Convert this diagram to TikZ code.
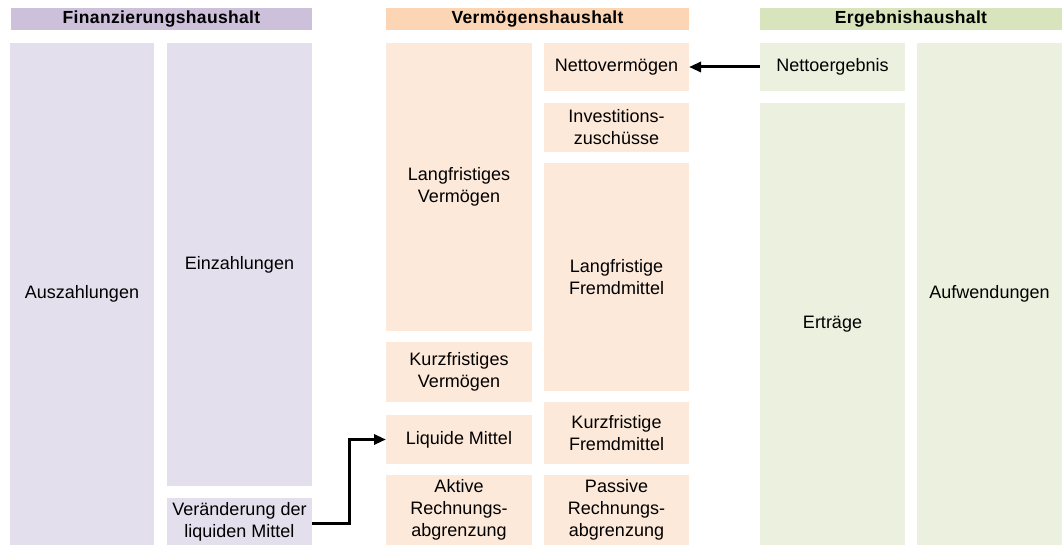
\documentclass[tikz,border=0pt]{standalone}
\usepackage{fontspec}
\setmainfont{Liberation Sans}
\usetikzlibrary{arrows.meta}
\definecolor{fhead}{HTML}{CCC0DA}
\definecolor{fbox}{HTML}{E4DFEC}
\definecolor{vhead}{HTML}{FCD5B4}
\definecolor{vbox}{HTML}{FDE9D9}
\definecolor{ehead}{HTML}{D8E4BC}
\definecolor{ebox}{HTML}{EBF1DE}
\newcommand{\bx}[7]{%
  \pgfmathsetmacro{\bw}{#4-#2}\pgfmathsetmacro{\bh}{#5-#3}%
  \node[#6, minimum width=\bw pt, minimum height=\bh pt] (#1) at ({(#2+#4)/2},{(#3+#5)/2}) {#7};}
\begin{document}
\begin{tikzpicture}[x=1pt,y=-1pt,
  base/.style={inner sep=0pt, outer sep=0pt, align=center, font=\fontsize{18}{22}\selectfont},
  hd/.style={base, font=\fontsize{17.5}{20}\selectfont\bfseries\addfontfeature{LetterSpace=2}},
  fh/.style={hd, fill=fhead},
  vh/.style={hd, fill=vhead},
  eh/.style={hd, fill=ehead},
  fb/.style={base, fill=fbox},
  vb/.style={base, fill=vbox},
  eb/.style={base, fill=ebox},
  conn/.style={line width=3pt, -{Triangle[length=12pt,width=10pt]}}]
\useasboundingbox (0,0) rectangle (1062,545);
% headers
\bx{hf}{11}{8}{312}{30}{fh}{Finanzierungshaushalt}
\bx{hv}{386}{8}{689}{30}{vh}{Vermögenshaushalt}
\bx{he}{760}{8}{1062}{30}{eh}{Ergebnishaushalt}
% Finanzierungshaushalt
\bx{aus}{10}{43}{154}{545}{fb}{Auszahlungen}
\bx{ein}{167}{43}{312}{486}{fb}{Einzahlungen}
\bx{ver}{167}{498}{312}{545}{fb}{Veränderung der\\liquiden Mittel}
% Vermögenshaushalt left
\bx{lv}{386}{43}{532}{331}{vb}{Langfristiges\\Vermögen}
\bx{kv}{386}{342}{532}{402}{vb}{Kurzfristiges\\Vermögen}
\bx{lm}{386}{415}{532}{464}{vb}{Liquide Mittel}
\bx{ara}{386}{475}{532}{545}{vb}{Aktive\\Rechnungs-\\abgrenzung}
% Vermögenshaushalt right
\bx{nv}{544}{43}{689}{91}{vb}{Nettovermögen}
\bx{iz}{544}{103}{689}{152}{vb}{Investitions-\\zuschüsse}
\bx{lf}{544}{163}{689}{391}{vb}{Langfristige\\Fremdmittel}
\bx{kf}{544}{402}{689}{464}{vb}{Kurzfristige\\Fremdmittel}
\bx{pra}{544}{475}{689}{545}{vb}{Passive\\Rechnungs-\\abgrenzung}
% Ergebnishaushalt
\bx{ne}{760}{43}{905}{91}{eb}{Nettoergebnis}
\bx{er}{760}{103}{905}{545}{eb}{Erträge}
\bx{auf}{917}{43}{1062}{545}{eb}{Aufwendungen}
% connectors
\coordinate (a1) at (ver.east |- 0,523);
\draw[conn] (a1) -- (349,523) |- (lm.west);
\draw[conn] (ne.west) -- (nv.east);
\end{tikzpicture}
\end{document}
